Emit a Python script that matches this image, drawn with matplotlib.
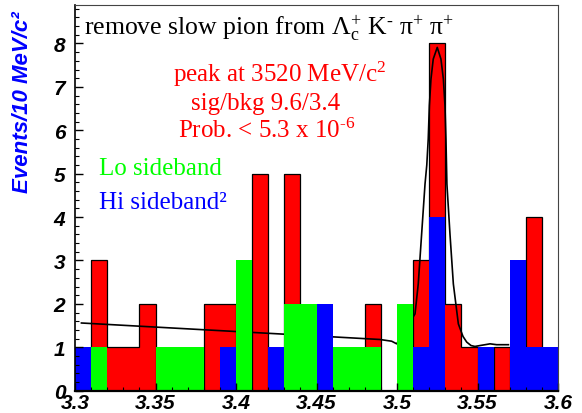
import matplotlib
matplotlib.use('Agg')
import matplotlib.pyplot as plt
import numpy as np
from matplotlib.ticker import MultipleLocator

# 10 MeV bins from 3.30 to 3.60 GeV
edges = np.round(np.arange(3.30, 3.6001, 0.01), 2)

# signal region (red), lo sideband (green), hi sideband (blue)
red = [0, 3, 1, 1, 2, 0, 0, 0, 2, 2,
       0, 5, 0, 5, 0, 0, 0, 0, 2, 0,
       0, 3, 8, 2, 1, 0, 1, 0, 4, 0]
green = [0, 1, 0, 0, 0, 1, 1, 1, 0, 0,
         3, 0, 0, 2, 2, 0, 1, 1, 1, 0,
         2, 0, 0, 0, 0, 0, 0, 0, 0, 0]
blue = [1, 0, 0, 0, 0, 0, 0, 0, 0, 1,
        0, 0, 1, 0, 0, 2, 0, 0, 0, 0,
        0, 1, 4, 0, 0, 1, 0, 3, 1, 1]

# fit curve
fit_x = [3.304, 3.4604, 3.4894, 3.4967, 3.4998, 3.5112, 3.5132, 3.5153, 3.5174,
         3.5185, 3.5194, 3.5201, 3.5211, 3.5225, 3.5250, 3.5273, 3.5288, 3.5298,
         3.5304, 3.5310, 3.5329, 3.5350, 3.5381, 3.5410, 3.5433, 3.5460, 3.5484,
         3.5515, 3.5547, 3.5578, 3.5619, 3.5692]
fit_y = [1.56, 1.24, 1.18, 1.14, 1.08, 1.77, 2.46, 3.61, 4.76,
         5.20, 5.80, 6.57, 7.18, 7.64, 7.91, 7.64, 7.18, 6.57,
         5.80, 4.76, 3.61, 2.46, 1.54, 1.25, 1.12, 1.04, 1.02,
         1.04, 1.06, 1.08, 1.06, 1.06]

plt.rcParams['mathtext.fontset'] = 'custom'
plt.rcParams['mathtext.rm'] = 'Liberation Serif'
plt.rcParams['mathtext.it'] = 'Liberation Serif:italic'
plt.rcParams['mathtext.bf'] = 'Liberation Serif:bold'

fig = plt.figure(figsize=(5.82, 4.14), dpi=100)
ax = fig.add_axes([75/582, 1 - 391.7/414, 483/582, 385.7/414])

w = 0.01
ax.bar(edges[:-1], red, width=w, align='edge', color='#ff0000', linewidth=0, zorder=1)
ax.stairs(red, edges, color='black', linewidth=0.9, zorder=1.1)
ax.plot(fit_x, fit_y, color='black', linewidth=1.2, zorder=1.2)
ax.bar(edges[:-1], green, width=w, align='edge', color='#00ff00', linewidth=0, zorder=1.3)
ax.bar(edges[:-1], blue, width=w, align='edge', color='#0000ff', linewidth=0, zorder=1.4)

ax.set_xlim(3.3, 3.6)
ax.set_ylim(0, 8.887)
ax.xaxis.set_major_locator(MultipleLocator(0.05))
ax.xaxis.set_minor_locator(MultipleLocator(0.01))
ax.yaxis.set_major_locator(MultipleLocator(1))
ax.yaxis.set_minor_locator(MultipleLocator(0.2))
ax.xaxis.set_major_formatter(plt.FuncFormatter(lambda v, p: ('%.2f' % v).rstrip('0')))
ax.tick_params(which='both', direction='in', top=False, right=False, zorder=3)
ax.tick_params(which='major', length=6, width=1)
ax.tick_params(which='minor', length=3, width=0.8)
ax.tick_params(axis='x', pad=2)
ax.tick_params(axis='y', pad=7)
for lab in ax.get_xticklabels() + ax.get_yticklabels():
    lab.set_fontfamily('Liberation Sans')
    lab.set_fontweight('bold')
    lab.set_fontstyle('italic')
    lab.set_fontsize(15)

ax.spines['left'].set_linewidth(1.2)
ax.spines['bottom'].set_linewidth(1.6)
ax.spines['top'].set_linewidth(0.8)
ax.spines['right'].set_linewidth(0.8)
ax.spines['top'].set_color('#444444')
ax.spines['right'].set_color('#444444')
for s in ax.spines.values():
    s.set_zorder(3)

fig.text(0.038, 1 - 11/414, 'Events/10 MeV/c²', rotation=90, ha='center', va='top',
         color='#0000ff', fontsize=16, fontfamily='Liberation Sans',
         fontweight='bold', fontstyle='italic')

serif = 'Liberation Serif'
fs = 18
fig.text(84/582, 1 - 35/414,
         r'remove slow pion from Λ$_{\mathrm{c}}^{+}$ K$^{\text{-}}$ π$^{+}$ π$^{+}$',
         fontsize=18.5, fontfamily=serif, color='black', ha='left', va='baseline')
fig.text(280/582, 1 - 82/414, r'peak at 3520 MeV/c$^{2}$', fontsize=fs,
         fontfamily=serif, color='#ff0000', ha='center', va='baseline')
fig.text(266/582, 1 - 110/414, 'sig/bkg 9.6/3.4', fontsize=fs,
         fontfamily=serif, color='#ff0000', ha='center', va='baseline')
fig.text(267/582, 1 - 138/414, r'Prob. < 5.3 x 10$^{\text{-}6}$', fontsize=fs,
         fontfamily=serif, color='#ff0000', ha='center', va='baseline')
fig.text(99/582, 1 - 175/414, 'Lo sideband', fontsize=fs,
         fontfamily=serif, color='#00ff00', ha='left', va='baseline')
fig.text(99/582, 1 - 209/414, 'Hi sideband²', fontsize=fs,
         fontfamily=serif, color='#0000ff', ha='left', va='baseline')

plt.savefig('out.png', dpi=100)
